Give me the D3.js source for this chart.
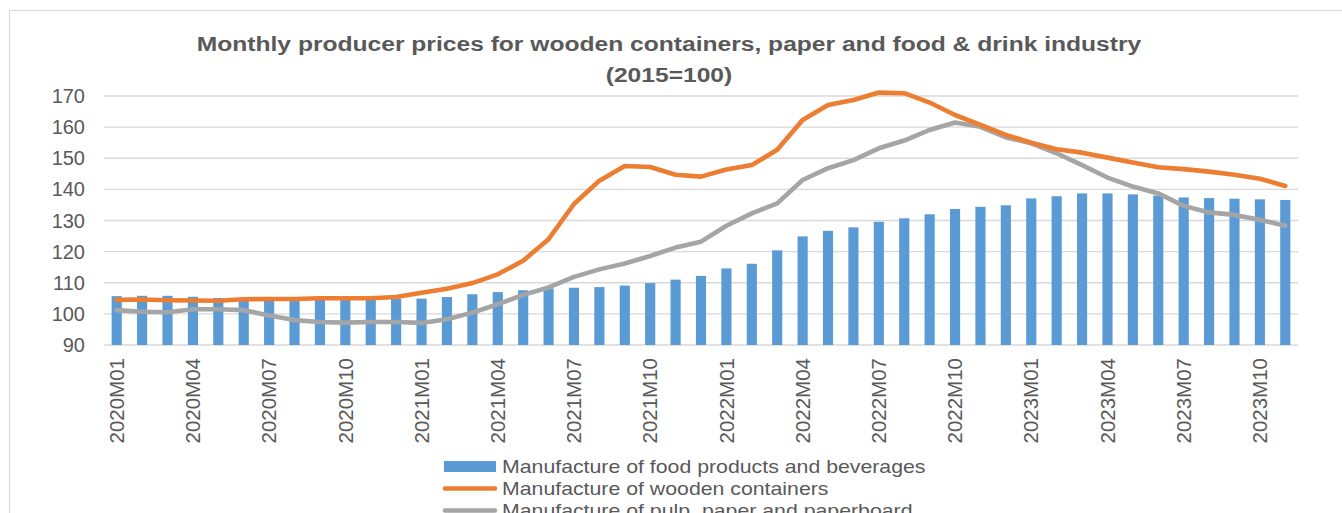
<!DOCTYPE html>
<html>
<head>
<meta charset="utf-8">
<script src="https://cdn.jsdelivr.net/npm/d3@7"></script>
<style>
  body { margin: 0; background: #fff; }
  svg { display: block; font-family: "Liberation Sans", Arial, sans-serif; }
  .grid line { stroke: #d9d9d9; stroke-width: 1.4; }
  .lbl { fill: #595959; font-size: 20px; }
</style>
</head>
<body>
<div id="chart"></div>
<script>
// producer price indices, 2015 = 100
const months = [
  "2020M01","2020M02","2020M03","2020M04","2020M05","2020M06","2020M07","2020M08","2020M09","2020M10","2020M11","2020M12",
  "2021M01","2021M02","2021M03","2021M04","2021M05","2021M06","2021M07","2021M08","2021M09","2021M10","2021M11","2021M12",
  "2022M01","2022M02","2022M03","2022M04","2022M05","2022M06","2022M07","2022M08","2022M09","2022M10","2022M11","2022M12",
  "2023M01","2023M02","2023M03","2023M04","2023M05","2023M06","2023M07","2023M08","2023M09","2023M10","2023M11"
];

const foodBeverages = [
  105.7, 105.8, 105.8, 105.5, 105.1, 104.9, 104.8, 104.7, 104.7, 104.7, 104.8, 104.8,
  104.9, 105.4, 106.3, 107.0, 107.6, 108.2, 108.4, 108.6, 109.1, 109.9, 111.0, 112.2,
  114.6, 116.1, 120.4, 124.9, 126.7, 127.8, 129.6, 130.7, 132.0, 133.7, 134.4, 134.9,
  137.1, 137.8, 138.7, 138.7, 138.4, 138.0, 137.4, 137.2, 137.0, 136.8, 136.6
];

const woodenContainers = [
  104.5, 104.6, 104.4, 104.3, 104.2, 104.7, 104.8, 104.8, 105.0, 105.0, 105.0, 105.4,
  106.8, 108.1, 109.9, 112.7, 117.1, 124.0, 135.3, 142.8, 147.5, 147.2, 144.7, 144.1,
  146.4, 147.8, 152.7, 162.3, 167.1, 168.7, 171.1, 170.9, 167.9, 163.9, 160.7, 157.5,
  155.0, 152.9, 151.8, 150.2, 148.6, 147.1, 146.5, 145.7, 144.7, 143.4, 141.1
];

const pulpPaper = [
  101.2, 100.7, 100.5, 101.5, 101.5, 101.2, 99.5, 98.0, 97.4, 97.2, 97.4, 97.4,
  97.1, 98.3, 100.4, 103.1, 106.1, 108.5, 111.9, 114.3, 116.2, 118.6, 121.3, 123.2,
  128.3, 132.3, 135.5, 143.0, 146.8, 149.4, 153.2, 155.7, 159.1, 161.5, 160.1, 156.7,
  154.8, 151.6, 147.8, 143.8, 140.9, 138.7, 134.7, 132.6, 131.8, 130.2, 128.3
];

const yTicks = [90, 100, 110, 120, 130, 140, 150, 160, 170];
const tickLabels = months.filter((m, i) => i % 3 === 0);

const titleLines = [
  "Monthly producer prices for wooden containers, paper and food & drink industry",
  "(2015=100)"
];
const seriesNames = [
  "Manufacture of food products and beverages",
  "Manufacture of wooden containers",
  "Manufacture of pulp, paper and paperboard"
];
const colors = ["#5b9bd5", "#ed7d31", "#a5a5a5"];

const W = 1342, H = 513;
const plot = { left: 104, right: 1298, top: 96, bottom: 345 };

const svg = d3.select("#chart").append("svg")
  .attr("width", W)
  .attr("height", H);

// chart area frame
svg.append("rect")
  .attr("x", 9.5).attr("y", 10.5)
  .attr("width", 1400).attr("height", 600)
  .attr("fill", "none")
  .attr("stroke", "#d9d9d9")
  .attr("stroke-width", 1.2);

const x = d3.scaleBand()
  .domain(months)
  .range([plot.left, plot.right])
  .paddingInner(0.6)
  .paddingOuter(0.3);

const y = d3.scaleLinear()
  .domain([90, 170])
  .range([plot.bottom, plot.top]);

const cx = d => x(d) + x.bandwidth() / 2;

// the source text runs a bit wider than Arial at its height, stretch it
const stretch = (sel, k) => sel.each(function () {
  const len = this.getComputedTextLength();
  d3.select(this)
    .attr("textLength", len * k)
    .attr("lengthAdjust", "spacingAndGlyphs");
});

// title
svg.append("g")
  .selectAll("text")
  .data(titleLines)
  .enter().append("text")
  .attr("x", 669)
  .attr("y", (d, i) => [51, 82][i])
  .attr("text-anchor", "middle")
  .attr("fill", "#595959")
  .style("font-size", "20px")
  .style("font-weight", "bold")
  .text(d => d)
  .call(stretch, 1.23);

// gridlines
svg.append("g").attr("class", "grid")
  .selectAll("line")
  .data(yTicks)
  .enter().append("line")
  .attr("x1", plot.left).attr("x2", plot.right)
  .attr("y1", d => y(d)).attr("y2", d => y(d));

// y axis labels
svg.append("g")
  .selectAll("text")
  .data(yTicks)
  .enter().append("text")
  .attr("class", "lbl")
  .attr("x", 85)
  .attr("y", d => y(d))
  .attr("dy", "0.35em")
  .attr("text-anchor", "end")
  .text(d => d);

// bars
svg.append("g")
  .selectAll("rect")
  .data(months)
  .enter().append("rect")
  .attr("x", d => x(d))
  .attr("width", x.bandwidth())
  .attr("y", (d, i) => y(foodBeverages[i]))
  .attr("height", (d, i) => y(90) - y(foodBeverages[i]))
  .attr("fill", colors[0]);

// lines
const line = d3.line()
  .x((v, i) => cx(months[i]))
  .y(v => y(v));

[[pulpPaper, colors[2]], [woodenContainers, colors[1]]].forEach(([vals, col]) => {
  svg.append("path")
    .datum(vals)
    .attr("d", line)
    .attr("fill", "none")
    .attr("stroke", col)
    .attr("stroke-width", 4.6)
    .attr("stroke-linejoin", "round")
    .attr("stroke-linecap", "round");
});

// x labels, every third month
svg.append("g")
  .selectAll("text")
  .data(tickLabels)
  .enter().append("text")
  .attr("class", "lbl")
  .style("font-size", "20.5px")
  .attr("transform", d => `translate(${cx(d)},358) rotate(-90)`)
  .attr("dy", "0.35em")
  .attr("text-anchor", "end")
  .text(d => d);

// legend
const legend = svg.append("g");
const rowY = [466.5, 488.5, 510.5];

legend.append("rect")
  .attr("x", 444).attr("y", 461)
  .attr("width", 52).attr("height", 11)
  .attr("fill", colors[0]);

[1, 2].forEach(k => {
  legend.append("line")
    .attr("x1", 445).attr("x2", 495)
    .attr("y1", rowY[k]).attr("y2", rowY[k])
    .attr("stroke", colors[k])
    .attr("stroke-width", 4.6)
    .attr("stroke-linecap", "round");
});

legend.selectAll("text")
  .data(seriesNames)
  .enter().append("text")
  .attr("class", "lbl")
  .style("font-size", "19px")
  .attr("x", 502)
  .attr("y", (d, i) => rowY[i] + 6.8)
  .text(d => d)
  .call(stretch, 1.12);
</script>
</body>
</html>
